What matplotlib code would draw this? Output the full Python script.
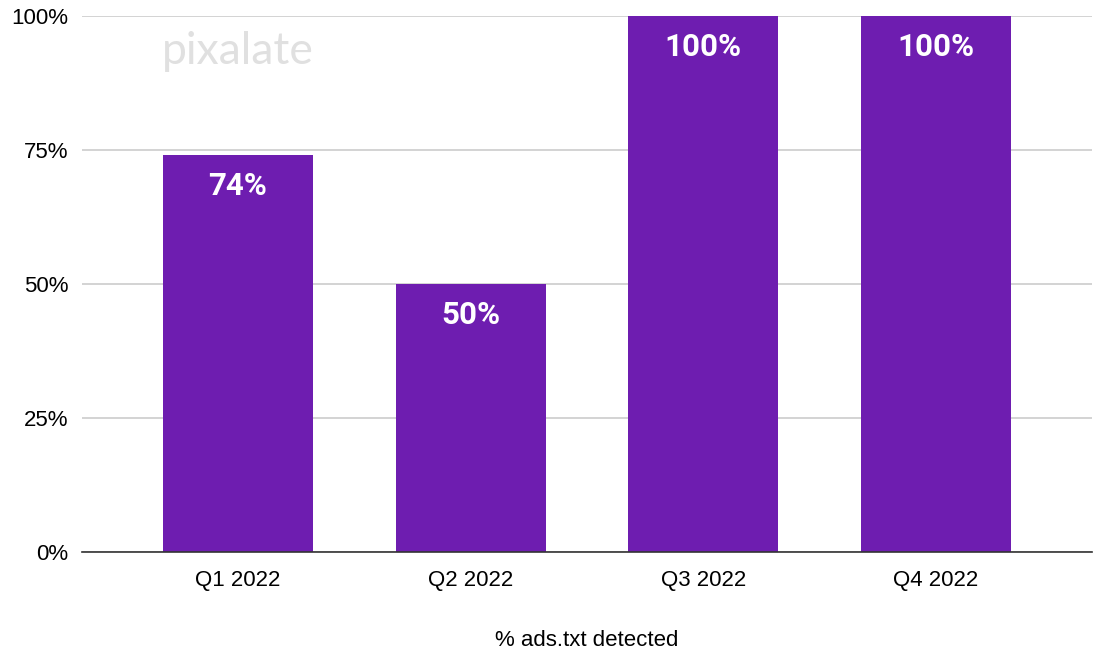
import matplotlib.pyplot as plt
import numpy as np

quarters = ["Q1 2022", "Q2 2022", "Q3 2022", "Q4 2022"]
detected = [74, 50, 100, 100]
yticks = [0, 25, 50, 75, 100]

barColor = '#6e1db0'

fig = plt.figure(figsize=(10.96, 6.52), dpi=100)
ax = fig.add_axes([0.0748, 0.1534, 0.9216, 0.8221])

x = np.arange(len(quarters))
bars = ax.bar(x, detected, width=0.645, color=barColor, zorder=3)

for b, v in zip(bars, detected):
    ax.text(b.get_x() + b.get_width() / 2, v - 5.8, "{}%".format(v),
            ha='center', va='center', color='white', fontsize=22.5,
            fontweight='bold', family='Roboto', zorder=4)

ax.set_xlim(-0.67, 3.67)
ax.set_ylim(0, 100)
ax.set_yticks(yticks)
ax.set_yticklabels(["{}%".format(t) for t in yticks], family='Liberation Sans', fontsize=16)
ax.set_xticks(x)
ax.set_xticklabels(quarters, family='Liberation Sans', fontsize=16)
ax.tick_params(length=0, pad=10)
ax.tick_params(axis='x', pad=13)
ax.grid(axis='y', color='#cccccc', linewidth=1.2, zorder=0)
for s in ['top', 'right', 'left']:
    ax.spines[s].set_visible(False)
ax.spines['bottom'].set_color('#333333')
ax.spines['bottom'].set_linewidth(1.2)
ax.spines['bottom'].set_zorder(5)

ax.set_xlabel("% ads.txt detected", family='Liberation Sans', fontsize=16, labelpad=28)

# watermark
ax.text(0.0, 93.3, "pixalate", ha='center', va='center', color='#e0e0e0',
        fontsize=32, family='Lato', zorder=1)

fig.savefig("out.png", dpi=100)
